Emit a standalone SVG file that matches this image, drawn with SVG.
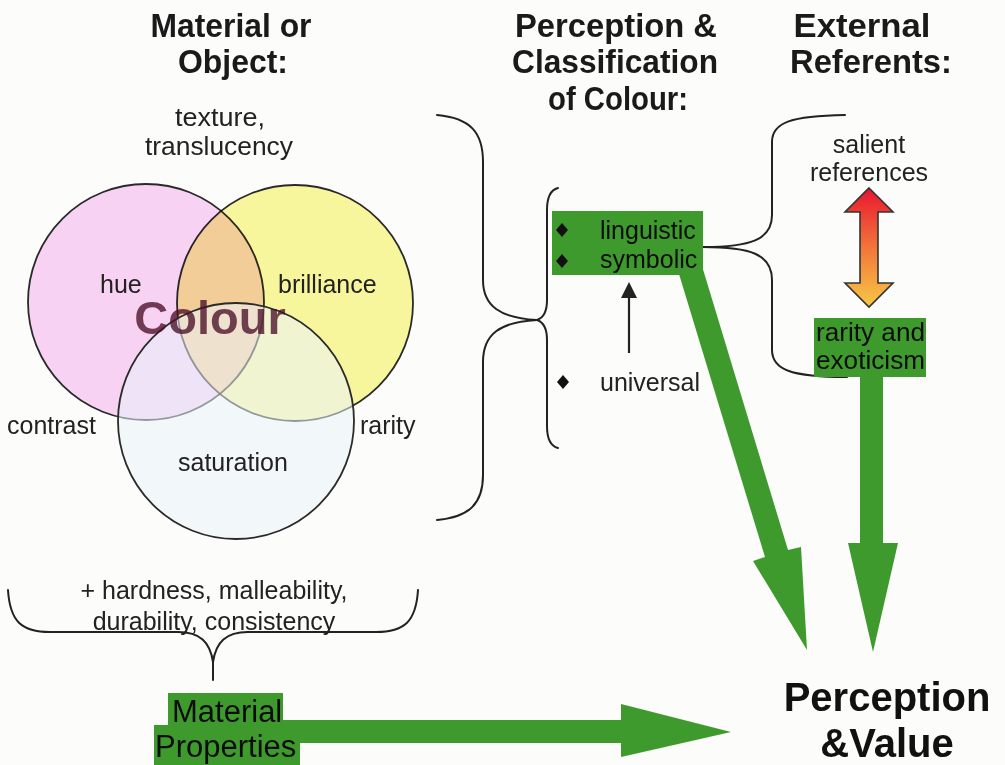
<svg xmlns="http://www.w3.org/2000/svg" width="1005" height="765" viewBox="0 0 1005 765">
  <defs>
    <style>
      .head { font-family: "Liberation Sans Narrow", "Liberation Sans", Arial, sans-serif; font-weight: bold; font-size: 33px; fill: #1a1a1a; text-anchor: middle; }
      .narrow { font-family: "Liberation Sans Narrow", "Liberation Sans", Arial, sans-serif; font-size: 25px; fill: #222; text-anchor: middle; }
      .lbl { font-family: "Liberation Sans", Arial, sans-serif; font-size: 25px; fill: #222; }
      .mid { text-anchor: middle; }
      .boxtxt { font-family: "Liberation Sans", Arial, sans-serif; font-size: 25px; fill: #0d0d0d; }
      .big { font-family: "Liberation Sans", Arial, sans-serif; font-weight: bold; font-size: 40px; fill: #111; text-anchor: middle; }
      .brace { fill: none; stroke: #222; stroke-width: 2; stroke-linecap: round; }
      .ring { stroke: #2a2a2a; stroke-width: 1.8; }
      .green { fill: #3f9a2e; }
      .dot { fill: #111; }
    </style>
    <linearGradient id="warm" x1="0" y1="0" x2="0" y2="1">
      <stop offset="0" stop-color="#e8162f"/>
      <stop offset="0.5" stop-color="#f2753a"/>
      <stop offset="1" stop-color="#f8c845"/>
    </linearGradient>
  </defs>

  <rect x="0" y="0" width="1005" height="765" fill="#fcfcfb"/>

  <!-- column headings -->
  <g id="heading-material">
    <text class="head" x="231" y="37" textLength="161" lengthAdjust="spacingAndGlyphs">Material or</text>
    <text class="head" x="233" y="73" textLength="110" lengthAdjust="spacingAndGlyphs">Object:</text>
  </g>
  <g id="heading-perception">
    <text class="head" x="616" y="37" textLength="202" lengthAdjust="spacingAndGlyphs">Perception &amp;</text>
    <text class="head" x="615" y="73" textLength="206" lengthAdjust="spacingAndGlyphs">Classification</text>
    <text class="head" x="618" y="110" textLength="140" lengthAdjust="spacingAndGlyphs">of Colour:</text>
  </g>
  <g id="heading-external">
    <text class="head" x="862" y="37" textLength="137" lengthAdjust="spacingAndGlyphs">External</text>
    <text class="head" x="871" y="73" textLength="162" lengthAdjust="spacingAndGlyphs">Referents:</text>
  </g>

  <g id="texture">
    <text class="narrow" x="220" y="126" textLength="90" lengthAdjust="spacingAndGlyphs">texture,</text>
    <text class="narrow" x="219" y="155" textLength="148" lengthAdjust="spacingAndGlyphs">translucency</text>
  </g>

  <!-- colour venn -->
  <g id="venn">
    <circle class="ring" cx="146" cy="302" r="118" fill="#f7d2f3"/>
    <circle class="ring" cx="295" cy="303" r="118" fill="#fbf9a0" style="mix-blend-mode: multiply"/>
    <circle cx="236" cy="421" r="118" fill="#eaf3fa" fill-opacity="0.55"/>
    <circle cx="236" cy="421" r="118" fill="none" stroke="#2a2a2a" stroke-width="1.8"/>
    <text x="210" y="334" font-family="Liberation Sans, Arial, sans-serif" font-weight="bold" font-size="47" fill="#4a1028" fill-opacity="0.78" text-anchor="middle">Colour</text>
    <text class="lbl" x="100" y="293">hue</text>
    <text class="lbl" x="278" y="293">brilliance</text>
    <text class="lbl" x="7" y="434">contrast</text>
    <text class="lbl" x="360" y="434">rarity</text>
    <text class="lbl" x="178" y="471">saturation</text>
  </g>

  <!-- bottom-left brace and notes -->
  <g id="other-properties">
    <text class="lbl mid" x="214" y="599">+ hardness, malleability,</text>
    <text class="lbl mid" x="214" y="630">durability, consistency</text>
  </g>

  <!-- connectors: braces and arrows -->
  <g id="connectors">
    <path class="brace" d="M8,590 C10,622 22,632 50,632 L178,632 C200,632 210,642 213,662 L213,680"/>
    <path class="brace" d="M418,590 C416,622 404,632 376,632 L248,632 C226,632 216,642 213,662"/>

    <path class="brace" d="M437,115 C470,118 483,132 483,162 L483,280 C483,306 500,318 537,320"/>
    <path class="brace" d="M437,520 C470,517 483,503 483,475 L483,362 C483,334 500,322 537,320"/>
    <path class="brace" d="M558,188 C550,190 547,198 547,210 L547,300 C547,312 543,318 537,320"/>
    <path class="brace" d="M558,448 C550,446 547,438 547,426 L547,340 C547,328 543,322 537,320"/>

    <path class="brace" d="M703,247 C750,247 772,240 772,215 L772,142 C772,122 792,116 845,115"/>
    <path class="brace" d="M703,247 C750,247 772,254 772,280 L772,350 C772,370 792,377 847,377"/>

    <!-- universal to linguistic/symbolic -->
    <line x1="629" y1="353" x2="629" y2="296" stroke="#222" stroke-width="2.2"/>
    <polygon points="629,282 637,298 621,298" fill="#222"/>

    <!-- salient references <-> rarity -->
    <polygon points="869,188 893,212 878,212 878,283 893,283 869,307 845,283 860,283 860,212 845,212" fill="url(#warm)" stroke="#333" stroke-width="1.6" stroke-linejoin="miter"/>

    <!-- big green arrows -->
    <polygon class="green" points="702,266 679,274 765,557 753,561 807,650 801,547 788,550"/>
    <polygon class="green" points="860,370 883,370 883,543 898,543 873,652 848,543 860,543"/>
    <polygon class="green" points="280,720 621,720 621,704 731,732 621,757 621,743 280,743"/>
  </g>

  <g id="linguistic-symbolic">
    <rect class="green" x="552" y="211" width="151" height="64"/>
    <polygon class="dot" points="562,223 568,230 562,237 556,230"/>
    <polygon class="dot" points="562,254 568,261 562,268 556,261"/>
    <text class="boxtxt" x="600" y="239">linguistic</text>
    <text class="boxtxt" x="600" y="268">symbolic</text>
  </g>

  <g id="universal">
    <polygon class="dot" points="563,375 569,382 563,389 557,382"/>
    <text class="lbl" x="600" y="391">universal</text>
  </g>

  <g id="salient-references">
    <text class="lbl mid" x="869" y="153">salient</text>
    <text class="lbl mid" x="869" y="181">references</text>
  </g>

  <g id="rarity-exoticism">
    <rect class="green" x="814" y="318" width="112" height="59"/>
    <text class="boxtxt" x="816" y="341" textLength="109" lengthAdjust="spacingAndGlyphs">rarity and</text>
    <text class="boxtxt" x="816" y="369" textLength="109" lengthAdjust="spacingAndGlyphs">exoticism</text>
  </g>

  <g id="material-properties">
    <rect class="green" x="168" y="693" width="115" height="33"/>
    <rect class="green" x="154" y="725" width="146" height="40"/>
    <text x="172" y="722" font-family="Liberation Sans, Arial, sans-serif" font-size="31" fill="#0d0d0d">Material</text>
    <text x="155" y="757" font-family="Liberation Sans, Arial, sans-serif" font-size="31" fill="#0d0d0d">Properties</text>
  </g>

  <g id="perception-value">
    <text class="big" x="887" y="711">Perception</text>
    <text class="big" x="887" y="757">&amp;Value</text>
  </g>
</svg>
